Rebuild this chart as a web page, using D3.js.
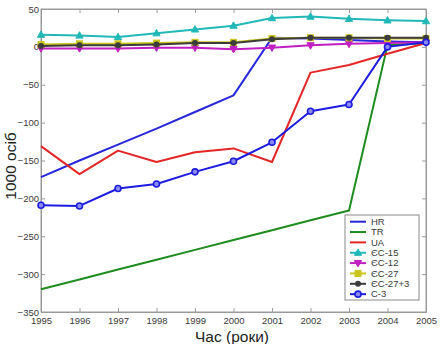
<!DOCTYPE html>
<html><head><meta charset="utf-8">
<script src="https://cdn.jsdelivr.net/npm/d3@7"></script>
<style>body{margin:0;background:#fff}svg{display:block}</style>
</head><body>
<script>
const years = [1995,1996,1997,1998,1999,2000,2001,2002,2003,2004,2005];
const HR   = [-172,-150,-129,-108,-86,-64,12,11,9,7,6];
const TR   = [-320,-307,-294,-281,-268,-255,-242,-229,-216,2,5];
const UA   = [-131,-168,-137,-152,-139,-134,-152,-34,-24,-9,5];
const EC15 = [16,15,13,18,23,28,38,40,37,35,34];
const EC12 = [-2,-2,-2,-1,-1,-3,-1,2,4,5,6];
const EC27 = [3,4,4,5,6,6,11,12,12,11,11];
const EC27p3 = [1,2,2,3,5,5,10,12,12,12,12];
const C3   = [-209,-210,-187,-181,-165,-151,-126,-85,-76,0,6];
const yTicks = [50,0,-50,-100,-150,-200,-250,-300,-350];
const seriesNames = ["HR","TR","UA","ЄС-15","ЄС-12","ЄС-27","ЄС-27+3","С-3"];
const seriesValues = [HR,TR,UA,EC15,EC12,EC27,EC27p3,C3];
const seriesColors = ["#2626dc","#1e8c1e","#e42626","#22b8b8","#c21fc2","#c9c51e","#3c3c3c","#1c1ce0"];
const seriesMarkers = [null,null,null,"triUp","triDown","square","dot","circle"];

const W=441,H=344;
const m={l:41,r:426,t:9,b:312};
const svg=d3.select("body").append("svg").attr("width",W).attr("height",H);
const x=d3.scaleLinear().domain([1995,2005]).range([m.l,m.r]);
const y=d3.scaleLinear().domain([-350,50]).range([m.b,m.t]);
const font="Liberation Sans, Arial, sans-serif";
const axCol="#9a9a9a";

svg.append("rect").attr("x",m.l).attr("y",m.t).attr("width",m.r-m.l).attr("height",m.b-m.t)
  .attr("fill","#fff").attr("stroke",axCol).attr("stroke-width",1);

const gx=svg.append("g").attr("transform",`translate(0,${m.b})`)
  .call(d3.axisBottom(x).tickValues(years).tickFormat(d3.format("d")).tickSizeInner(-4).tickSizeOuter(0).tickPadding(5));
const gxt=svg.append("g").attr("transform",`translate(0,${m.t})`)
  .call(d3.axisTop(x).tickValues(years).tickSizeInner(-4).tickSizeOuter(0).tickFormat(""));
const gy=svg.append("g").attr("transform",`translate(${m.l},0)`)
  .call(d3.axisLeft(y).tickValues(yTicks).tickSizeInner(-4).tickSizeOuter(0).tickPadding(2));
const gyr=svg.append("g").attr("transform",`translate(${m.r},0)`)
  .call(d3.axisRight(y).tickValues(yTicks).tickSizeInner(-4).tickSizeOuter(0).tickFormat(""));
[gx,gxt,gy,gyr].forEach(g=>{
  g.select(".domain").attr("stroke",axCol);
  g.selectAll(".tick line").attr("stroke",axCol);
  g.selectAll("text").attr("fill","#3a3a3a").style("font-family",font).style("font-size","9.5px");
});

const line=d3.line().x((d,i)=>x(years[i])).y(d=>y(d));
function marker(g,type,cx,cy,col){
  if(type==="triUp") g.append("path").attr("d",`M${cx},${cy-3.8}L${cx+3.6},${cy+2.6}L${cx-3.6},${cy+2.6}Z`).attr("fill",col).attr("stroke",col);
  else if(type==="triDown") g.append("path").attr("d",`M${cx},${cy+3.8}L${cx+3.6},${cy-2.6}L${cx-3.6},${cy-2.6}Z`).attr("fill",col).attr("stroke",col);
  else if(type==="square") g.append("rect").attr("x",cx-3).attr("y",cy-3).attr("width",6).attr("height",6).attr("fill",col).attr("stroke",col);
  else if(type==="dot") g.append("circle").attr("cx",cx).attr("cy",cy).attr("r",3).attr("fill",col);
  else if(type==="circle") g.append("circle").attr("cx",cx).attr("cy",cy).attr("r",3).attr("fill","#8c8cf0").attr("stroke",col).attr("stroke-width",1.6);
}
seriesValues.forEach((vals,k)=>{
  const g=svg.append("g");
  g.append("path").datum(vals).attr("d",line).attr("fill","none")
    .attr("stroke",seriesColors[k]).attr("stroke-width",2).attr("stroke-linejoin","round");
  if(seriesMarkers[k]) vals.forEach((v,i)=>marker(g,seriesMarkers[k],x(years[i]),y(v),seriesColors[k]));
});

const lg=svg.append("g");
lg.append("rect").attr("x",345).attr("y",215).attr("width",74).attr("height",85)
  .attr("fill","#fff").attr("stroke","#8a8a8a").attr("stroke-width",1);
seriesNames.forEach((n,k)=>{
  const yy=221.7+k*10.35;
  lg.append("line").attr("x1",350).attr("x2",366).attr("y1",yy).attr("y2",yy)
    .attr("stroke",seriesColors[k]).attr("stroke-width",2);
  if(seriesMarkers[k]) marker(lg,seriesMarkers[k],358,yy,seriesColors[k]);
  lg.append("text").attr("x",371).attr("y",yy+3.3).text(n)
    .attr("fill","#3a3a3a").style("font-family",font).style("font-size","9.5px");
});

svg.append("text").attr("transform","translate(16,166) rotate(-90)").attr("text-anchor","middle")
  .text("1000 осіб").attr("fill","#222").style("font-family",font).style("font-size","15.5px");
svg.append("text").attr("x",232).attr("y",342).attr("text-anchor","middle")
  .text("Час (роки)").attr("fill","#222").style("font-family",font).style("font-size","15.5px");
</script>
</body></html>
